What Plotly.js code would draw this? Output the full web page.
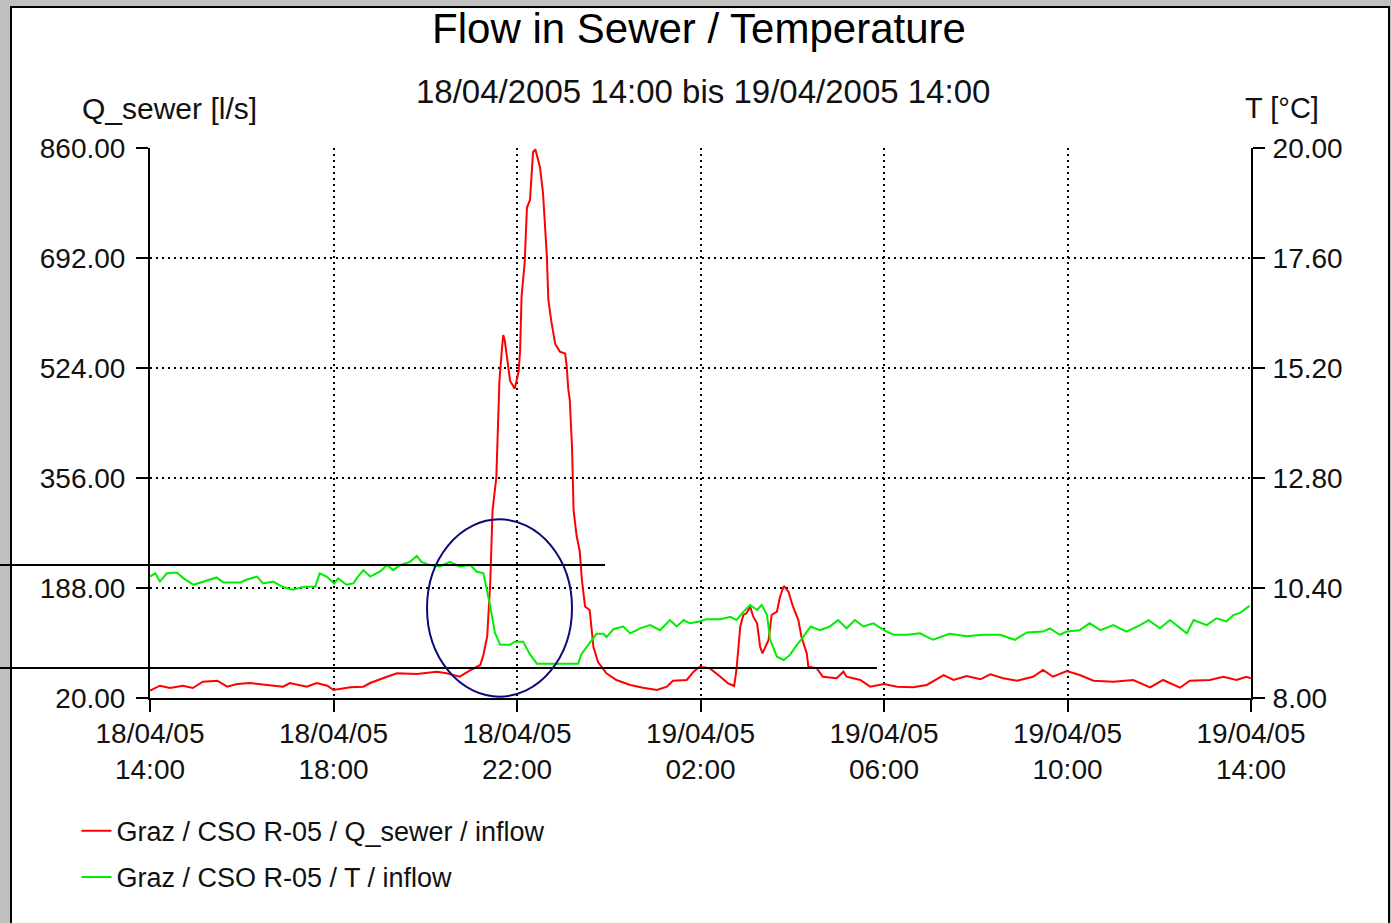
<!DOCTYPE html>
<html>
<head>
<meta charset="utf-8">
<script src="https://cdn.plot.ly/plotly-3.0.1.min.js"></script>
<style>
html,body{margin:0;padding:0;background:#c0c0c0;width:1391px;height:923px;overflow:hidden}
#panel{position:absolute;left:10px;top:6px;width:1376px;height:940px;background:#fff;border:2px solid #000;box-sizing:content-box}
#chart{position:absolute;left:0;top:0;width:1391px;height:923px}
</style>
</head>
<body>
<div id="panel"></div>
<div id="chart"></div>
<script>
// ---- Data (minutes after 18/04/2005 14:00) ----
const startTime = Date.UTC(2005, 3, 18, 14, 0);

const qMinutes = [
  0,13,26,43,56,69,88,101,114,131,
  153,174,183,205,218,232,240,262,279,288,
  310,323,349,375,388,405,418,432,436,441,
  445,448,453,455,457,460,462,464,467,471,
  477,482,484,486,490,493,497,501,504,506,
  510,514,517,519,521,525,530,536,543,545,
  547,549,552,554,558,562,565,569,575,580,
  586,597,610,628,645,663,676,684,702,711,
  719,732,746,756,764,767,772,776,780,785,
  789,794,798,801,804,809,813,820,824,829,
  835,841,848,852,859,861,872,880,898,907,
  911,929,942,960,977,998,1016,1038,1051,1068,
  1086,1099,1116,1134,1155,1168,1181,1199,1216,1234,
  1260,1286,1308,1325,1347,1360,1386,1404,1421,1434,
  1440
];
const qSewer = [
  31.1,38.8,35.3,38.8,35.3,44.9,46.4,37.3,41.4,42.9,
  39.9,37.3,42.9,37.3,42.9,38.8,32.2,36.3,37.3,42.9,
  52.5,57.7,56.7,60.2,57.7,52.5,61.7,70.4,85.7,113.6,
  195.6,306.4,357.5,424.7,504.1,549.1,574.4,565.9,537.7,504.1,
  492.5,517.9,549.1,634,684.4,769,780.6,853.9,858,847.8,
  831,791.6,724,695.7,627.9,594.3,560.7,549.1,546.1,527,
  492.5,475.6,402.3,306.4,267.4,244.5,199.1,159.7,154.4,97.9,
  75,57.7,47.5,39.9,35.7,32.2,37.3,46.4,47.5,60.2,
  67.8,65.4,52.5,42.4,38.3,62.8,128.9,146.8,149.4,159.4,
  144.2,134.1,98.3,88.2,95.9,108.6,146.8,151.8,174.7,191.1,
  182.3,159.4,139.1,113.6,88.2,67.8,65.4,52.5,50.1,60.2,
  52.5,47.5,37.3,41.4,37.3,36.3,39.9,55.1,47.5,53.6,
  48.6,56.2,50.1,46.4,52.5,62.8,52.5,61.2,55.1,46.4,
  44.9,47.5,36.3,47.5,35.7,46.4,47.5,52.5,47.5,52.5,
  50.1
];

const tMinutes = [
  0,7,13,22,35,44,57,70,87,96,
  118,126,140,148,161,174,187,201,216,222,
  231,241,246,257,266,272,279,288,301,310,
  318,327,340,349,355,366,379,392,405,419,
  427,436,440,445,451,458,471,477,488,497,
  506,532,560,564,575,584,593,597,606,619,
  628,641,654,667,680,689,698,706,719,728,
  746,759,767,776,785,794,800,807,811,820,
  829,837,846,853,864,876,889,900,911,922,
  933,946,960,972,990,1007,1024,1046,1068,1090,
  1112,1131,1147,1168,1177,1190,1199,1216,1229,1243,
  1260,1277,1295,1306,1321,1334,1356,1365,1382,1395,
  1408,1417,1425,1438
];
const tInflow = [
  10.65,10.72,10.54,10.72,10.74,10.61,10.47,10.54,10.63,10.52,
  10.52,10.58,10.65,10.50,10.54,10.42,10.36,10.43,10.43,10.72,
  10.65,10.50,10.61,10.47,10.50,10.65,10.79,10.65,10.76,10.90,
  10.79,10.90,10.97,11.10,10.97,10.90,10.87,10.97,10.87,10.90,
  10.76,10.72,10.43,10.00,9.43,9.16,9.16,9.23,9.23,8.95,
  8.75,8.75,8.75,8.95,9.19,9.40,9.40,9.33,9.50,9.56,
  9.41,9.52,9.59,9.48,9.70,9.56,9.70,9.63,9.67,9.72,
  9.72,9.77,9.70,9.88,10.03,9.92,10.03,9.81,9.27,8.90,
  8.83,8.94,9.16,9.30,9.56,9.48,9.56,9.70,9.52,9.70,
  9.56,9.63,9.48,9.38,9.38,9.41,9.27,9.40,9.35,9.38,
  9.38,9.27,9.43,9.45,9.52,9.38,9.45,9.48,9.63,9.48,
  9.59,9.45,9.59,9.70,9.52,9.70,9.41,9.70,9.59,9.74,
  9.67,9.81,9.85,10.01
];

const xTickVals = ['2005-04-18 14:00','2005-04-18 18:00','2005-04-18 22:00','2005-04-19 02:00','2005-04-19 06:00','2005-04-19 10:00','2005-04-19 14:00'];
const xTickText = ['18/04/05<br>14:00','18/04/05<br>18:00','18/04/05<br>22:00','19/04/05<br>02:00','19/04/05<br>06:00','19/04/05<br>10:00','19/04/05<br>14:00'];
const qTickVals = [20,188,356,524,692,860];
const tTickVals = [8,10.4,12.8,15.2,17.6,20];

const xRange = ['2005-04-18 14:00','2005-04-19 14:00'];
const qRange = [20,860];
const tRange = [8,20];

function toDate(m){
  const d = new Date(startTime + m*60000);
  const p = n => String(n).padStart(2,'0');
  return d.getUTCFullYear()+'-'+p(d.getUTCMonth()+1)+'-'+p(d.getUTCDate())+' '+p(d.getUTCHours())+':'+p(d.getUTCMinutes());
}

const FONT = 'Liberation Sans, Arial, Helvetica, sans-serif';
const TXT = '#111';

const traces = [
  {x: qMinutes.map(toDate), y: qSewer, xaxis:'x', yaxis:'y', type:'scatter', mode:'lines',
   name:'Graz / CSO R-05 / Q_sewer / inflow', legendgroup:'a',
   line:{color:'#ff0000', width:2}, hoverinfo:'skip'},
  {x: tMinutes.map(toDate), y: tInflow, xaxis:'x', yaxis:'y2', type:'scatter', mode:'lines',
   name:'Graz / CSO R-05 / T / inflow', legendgroup:'b',
   line:{color:'#00ee00', width:2}, hoverinfo:'skip'}
];

const gridDash = '2px,4px';
const axFont = {family:FONT, size:28, color:TXT};

const layout = {
  width:1391, height:923,
  margin:{l:150, r:140, t:148, b:225, pad:0},
  paper_bgcolor:'rgba(0,0,0,0)', plot_bgcolor:'rgba(0,0,0,0)',
  font:{family:FONT, color:TXT},
  title:{text:'Flow in Sewer / Temperature', font:{family:FONT, size:42, color:'#000'},
         x:0.5025, xref:'container', xanchor:'center', y:1-28/923, yref:'container', yanchor:'middle'},
  showlegend:true,
  legend:{x:-0.0668, xanchor:'left', y:-0.1977, yanchor:'top', orientation:'v',
          font:{family:FONT, size:27, color:TXT}, bgcolor:'rgba(0,0,0,0)', tracegroupgap:8, itemwidth:30},
  xaxis:{type:'date', range:xRange, tickmode:'array', tickvals:xTickVals, ticktext:xTickText,
         ticks:'outside', ticklen:12, tickwidth:2, tickcolor:'#000', tickfont:axFont, ticklabelstandoff:-3,
         showline:true, linewidth:2, linecolor:'#000', showgrid:true, gridcolor:'#000', gridwidth:2,
         griddash:gridDash, zeroline:false, anchor:'y', fixedrange:true},
  xaxis2:{type:'date', range:xRange, overlaying:'x', anchor:'y', tickmode:'array', tickvals:xTickVals,
          ticks:'inside', ticklen:12, tickwidth:2, tickcolor:'#000', showticklabels:false,
          showline:false, showgrid:false, zeroline:false},
  yaxis:{range:qRange, tickmode:'array', tickvals:qTickVals, tickformat:'.2f',
         ticks:'outside', ticklen:12, tickwidth:2, tickcolor:'#000', tickfont:axFont, ticklabelstandoff:5,
         showline:true, linewidth:2, linecolor:'#000', showgrid:true, gridcolor:'#000', gridwidth:2,
         griddash:gridDash, zeroline:false, fixedrange:true},
  yaxis2:{range:tRange, overlaying:'y', side:'right', tickmode:'array', tickvals:tTickVals, tickformat:'.2f',
          ticks:'outside', ticklen:12, tickwidth:2, tickcolor:'#000', tickfont:axFont, ticklabelstandoff:2,
          showline:true, linewidth:2, linecolor:'#000', showgrid:false, zeroline:false, fixedrange:true},
  yaxis3:{range:qRange, overlaying:'y', side:'left', tickmode:'array', tickvals:qTickVals,
          ticks:'inside', ticklen:12, tickwidth:2, tickcolor:'#000', showticklabels:false,
          showline:false, showgrid:false, zeroline:false},
  yaxis4:{range:tRange, overlaying:'y', side:'right', tickmode:'array', tickvals:tTickVals,
          ticks:'inside', ticklen:12, tickwidth:2, tickcolor:'#000', showticklabels:false,
          showline:false, showgrid:false, zeroline:false},
  annotations:[
    {text:'18/04/2005 14:00 bis 19/04/2005 14:00', xref:'paper', yref:'paper', x:0.5023, y:1.1036,
     xanchor:'center', yanchor:'middle', showarrow:false, font:{family:FONT, size:33, color:TXT}},
    {text:'Q_sewer [l/s]', xref:'paper', yref:'paper', x:-0.0635, y:1.0727,
     xanchor:'left', yanchor:'middle', showarrow:false, font:{family:FONT, size:30, color:TXT}},
    {text:'T [°C]', xref:'paper', yref:'paper', x:0.9925, y:1.0727,
     xanchor:'left', yanchor:'middle', showarrow:false, font:{family:FONT, size:29, color:TXT}}
  ],
  shapes:[
    {type:'line', xref:'paper', yref:'paper', x0:-0.1363, x1:0.4133, y0:0.2418, y1:0.2418,
     line:{color:'#000', width:2}, layer:'above'},
    {type:'line', xref:'paper', yref:'paper', x0:-0.1363, x1:0.6603, y0:0.0545, y1:0.0545,
     line:{color:'#000', width:2}, layer:'above'},
    {type:'circle', xref:'paper', yref:'paper', x0:0.2516, x1:0.3833, y0:0.0024, y1:0.3249,
     line:{color:'#0a0a78', width:2}, layer:'above'}
  ]
};

Plotly.newPlot('chart', traces, layout, {staticPlot:true, displayModeBar:false});
</script>
</body>
</html>
